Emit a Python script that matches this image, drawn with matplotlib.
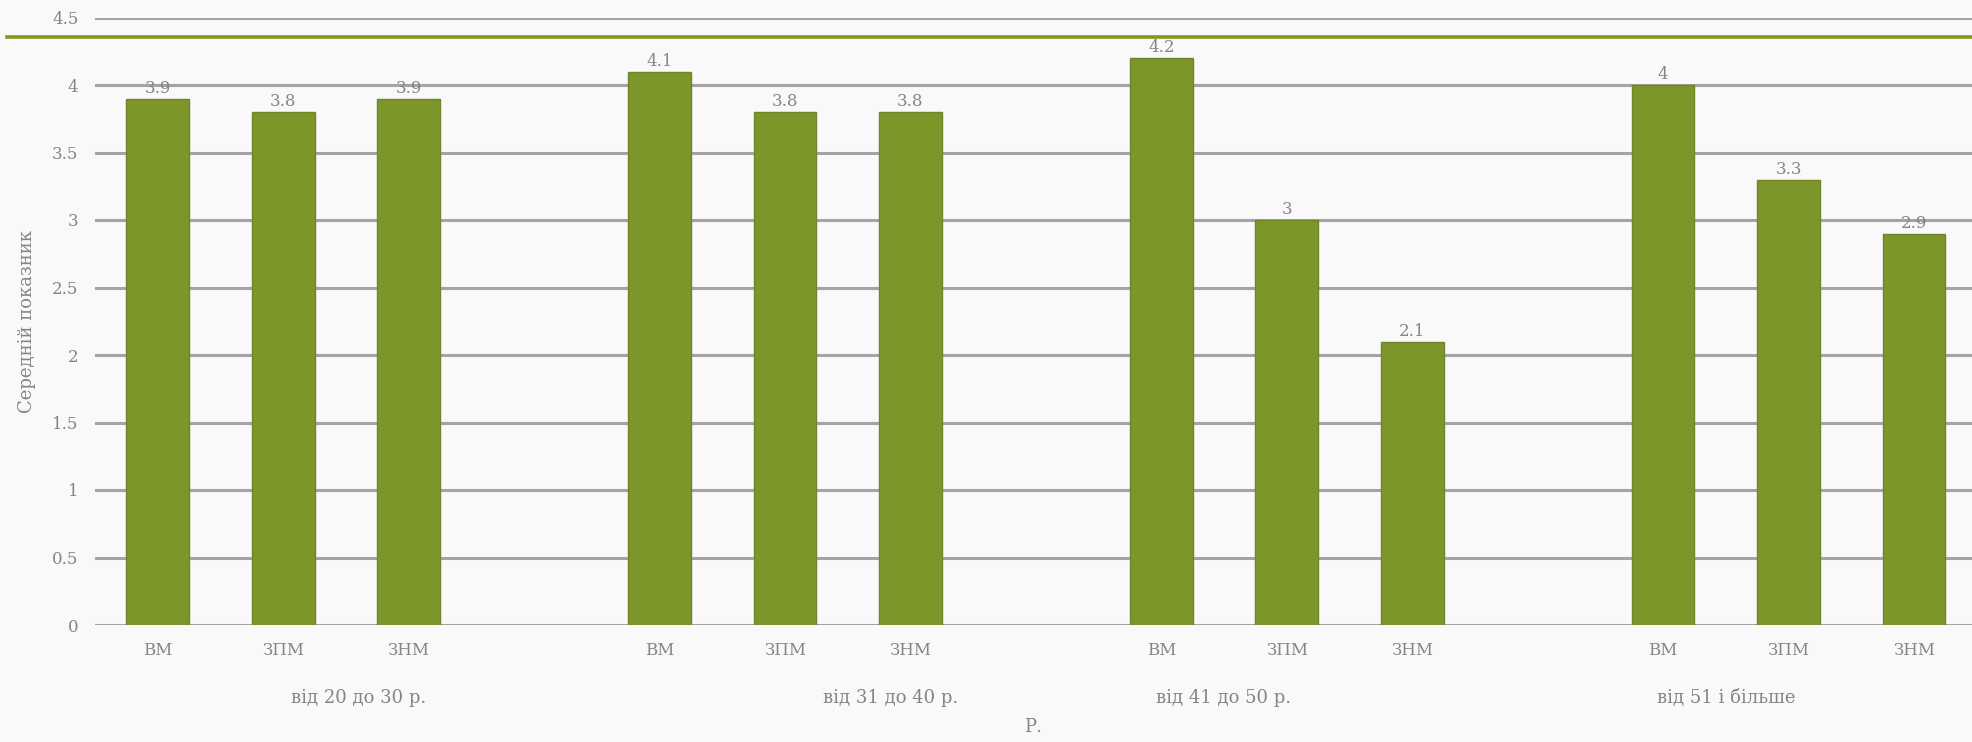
import matplotlib.pyplot as plt
from matplotlib.lines import Line2D
import numpy as np

# age groups and measure types
age_groups = ['від 20 до 30 р.', 'від 31 до 40 р.', 'від 41 до 50 р.', 'від 51 і більше']
measures = ['ВМ', 'ЗПМ', 'ЗНМ']
vm = [3.9, 4.1, 4.2, 4.0]
zpm = [3.8, 3.8, 3.0, 3.3]
znm = [3.9, 3.8, 2.1, 2.9]
y_ticks = [0, 0.5, 1, 1.5, 2, 2.5, 3, 3.5, 4, 4.5]

plt.rcParams['font.family'] = ['DejaVu Serif']
fs = 13

bar_col = '#7d962a'
grid_col = '#a4a4a4'
txt_col = '#858585'

fig = plt.figure(figsize=(19.72, 7.42), dpi=100)
fig.patch.set_facecolor('#f9f9f9')

# axes left edge at 95px, slot width ~125.45px, cropped at right edge of the picture
slot_px = 125.45
left_px = 95
ax = fig.add_axes([left_px / 1972, 1 - 625 / 742, 1 - left_px / 1972, (625 - 17.5) / 742])
ax.set_facecolor('none')
ax.set_xlim(-0.5, -0.5 + (1972 - left_px) / slot_px)
ax.set_ylim(0, 4.5)

series = [vm, zpm, znm]
xs, vals, labs = [], [], []
for g in range(len(age_groups)):
    for i, s in enumerate(series):
        xs.append(4 * g + i)
        vals.append(s[g])
        labs.append(measures[i])

bars = ax.bar(xs, vals, width=0.5, color=bar_col, edgecolor='#6f8529', linewidth=1.0, zorder=3)
for x, v in zip(xs, vals):
    ax.annotate(f'{v:g}', (x, v), xytext=(0, 4), textcoords='offset points',
                ha='center', va='baseline', fontsize=fs - 1, color=txt_col, zorder=4)

ax.set_yticks(y_ticks)
ax.set_yticklabels([f'{t:g}' for t in y_ticks])
ax.set_xticks(xs)
ax.set_xticklabels(labs)
ax.tick_params(axis='y', length=0, pad=12, labelsize=fs - 1, labelcolor=txt_col)
ax.tick_params(axis='x', length=0, pad=12, labelsize=fs - 1, labelcolor=txt_col)
ax.grid(axis='y', color=grid_col, linewidth=2.2, zorder=0)
for sp in ax.spines.values():
    sp.set_visible(False)

# second level of category labels
group_x = [1.6, 5.84, 8.5, 12.5]
for gx, name in zip(group_x, age_groups):
    ax.text(gx, -0.12, name, transform=ax.get_xaxis_transform(), ha='center', va='center',
            fontsize=fs, color=txt_col)

fig.text(1033 / 1972, 1 - 727 / 742, 'Р.', ha='center', va='center', fontsize=fs, color=txt_col)
fig.text(27 / 1972, 1 - 321 / 742, 'Середній показник', rotation=90, ha='center', va='center',
         fontsize=fs, color=txt_col)

# decorative green rule of the slide
fig.add_artist(Line2D([7 / 1972, 1], [1 - 37 / 742, 1 - 37 / 742], transform=fig.transFigure,
                      color='#7f9a1c', linewidth=2.6))

fig.savefig('out.png', dpi=100, facecolor=fig.get_facecolor())
